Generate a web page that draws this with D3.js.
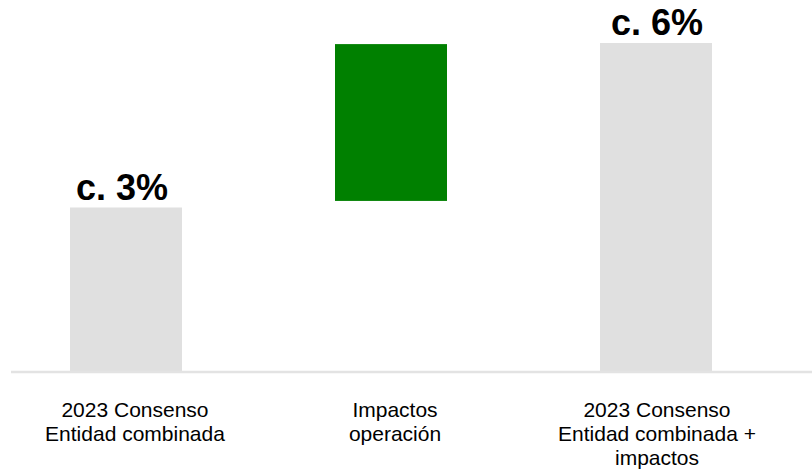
<!DOCTYPE html>
<html>
<head>
<meta charset="utf-8">
<script src="https://cdn.jsdelivr.net/npm/d3@7"></script>
<style>
  html, body { margin: 0; padding: 0; background: #fff; }
  svg { display: block; }
</style>
</head>
<body>
<svg id="chart" width="812" height="474"></svg>
<script>
const categories = [
  ["2023 Consenso", "Entidad combinada"],
  ["Impactos", "operación"],
  ["2023 Consenso", "Entidad combinada +", "impactos"]
];
const barStart = [0, 3.12, 0];
const barEnd = [3.0, 5.98, 6.0];
const valueLabels = ["c. 3%", null, "c. 6%"];

const barColors = ["#e0e0e0", "#008000", "#e0e0e0"];
const catNudge = [9, 4, 1];     // label placement tweaks (px)
const valueNudge = [-4, 0, 1];

const svg = d3.select("#chart");
const idx = d3.range(categories.length);

const x = d3.scaleBand().domain(idx).range([17, 765]).paddingInner(0.5774).paddingOuter(0.2);
const y = d3.scaleLinear().domain([0, 6]).range([372, 43]);

// bars
svg.append("g").selectAll("rect").data(idx).join("rect")
  .attr("x", i => x(i))
  .attr("width", x.bandwidth())
  .attr("y", i => y(Math.max(barStart[i], barEnd[i])))
  .attr("height", i => Math.abs(y(barStart[i]) - y(barEnd[i])))
  .attr("fill", i => barColors[i]);

// baseline axis
svg.append("line")
  .attr("x1", 11).attr("x2", 812)
  .attr("y1", y(0)).attr("y2", y(0))
  .attr("stroke", "#e3e3e3").attr("stroke-width", 2.5);

// value labels
svg.append("g").selectAll("text").data(idx.filter(i => valueLabels[i])).join("text")
  .attr("x", i => x(i) + x.bandwidth() / 2 + valueNudge[i])
  .attr("y", i => y(barEnd[i]) - 8)
  .attr("text-anchor", "middle")
  .attr("font-family", "Liberation Sans, Arial, sans-serif")
  .attr("font-weight", "bold")
  .attr("font-size", 36)
  .attr("fill", "#000")
  .text(i => valueLabels[i]);

// category labels
const cat = svg.append("g").selectAll("text").data(idx).join("text")
  .attr("text-anchor", "middle")
  .attr("font-family", "Liberation Sans, Arial, sans-serif")
  .attr("font-size", 21)
  .attr("fill", "#000");
cat.each(function(i) {
  const t = d3.select(this);
  categories[i].forEach((line, k) => {
    t.append("tspan")
      .attr("x", x(i) + x.bandwidth() / 2 + catNudge[i])
      .attr("y", 417 + k * 24)
      .text(line);
  });
});
</script>
</body>
</html>
